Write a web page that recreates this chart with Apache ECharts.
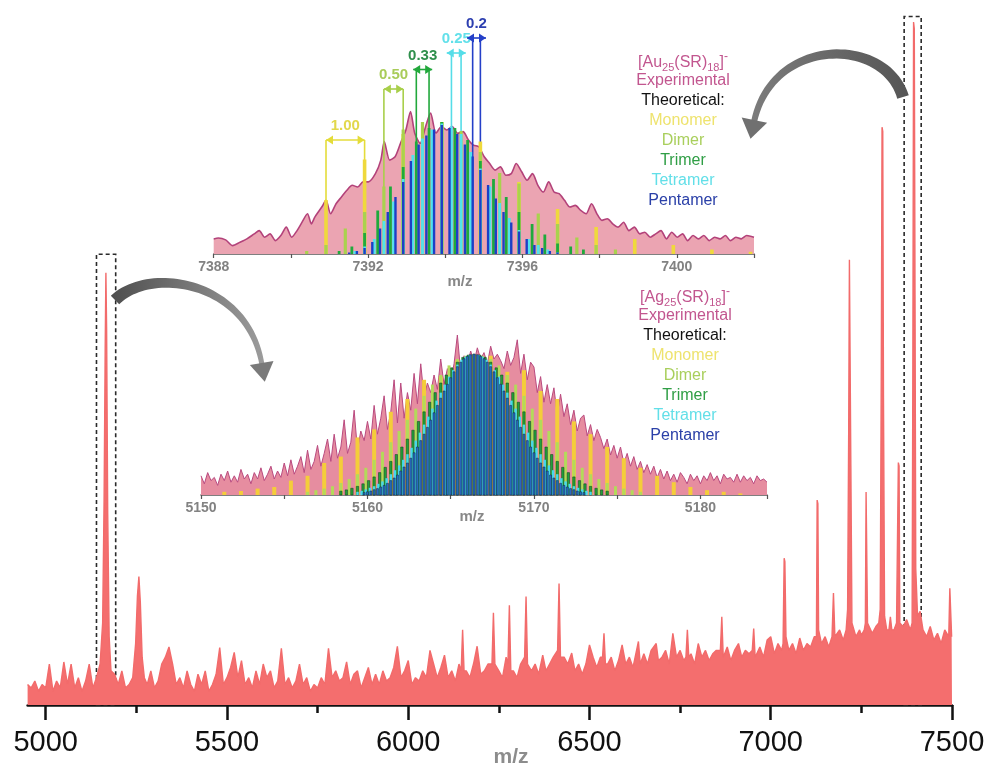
<!DOCTYPE html>
<html>
<head>
<meta charset="utf-8">
<script src="https://cdn.jsdelivr.net/npm/echarts@6/dist/echarts.min.js"></script>
<style>
html,body{margin:0;padding:0;background:#fff}
#chart{width:990px;height:769px}
</style>
</head>
<body>
<div id="chart"></div>
<script>
const FONT = '"Liberation Sans", Arial, Helvetica, sans-serif';

// ---------- Survey spectrum: [m/z, relative intensity %] ----------
const surveySpectrum = [
[4950,3],[4960,2.5],[4970,3.5],[4980,2],[4990,3],
[5000,2.5],[5010,6],[5020,2],[5030,3.5],[5040,2.5],[5050,6.3],[5060,3],[5070,6],[5080,2.5],[5090,4],
[5100,2],[5110,3.5],[5120,6],[5130,2.5],[5140,4],[5150,6],[5157,12],[5161,30],[5164,52],[5166,63.3],[5168,55],[5171,28],[5175,10],[5180,5],[5190,4.5],
[5200,3],[5210,5],[5220,2.5],[5230,3],[5240,4],[5248,9],[5253,16],[5257,18.8],[5261,15],[5266,7],[5272,4],[5280,3],[5290,5],
[5300,2.5],[5310,3.5],[5320,6],[5330,7],[5340,8.5],[5350,6],[5360,3],[5370,4],[5380,2.5],[5390,5],
[5400,3],[5410,2],[5420,4.5],[5430,3],[5440,5],[5450,2],[5460,3],[5470,4.5],[5480,8.4],[5490,3],
[5500,4],[5510,5.5],[5520,7.7],[5530,4],[5540,6.5],[5550,3],[5560,4],[5570,2.5],[5580,5],[5590,3],
[5600,6],[5610,4],[5620,5],[5630,2.5],[5640,3.5],[5650,8.3],[5660,3],[5670,4],[5680,2.5],[5690,3.5],
[5700,6],[5710,3],[5720,4],[5730,2],[5740,3],[5750,2.5],[5760,4],[5770,3],[5780,8.3],[5790,4],
[5800,5],[5810,3.5],[5820,4],[5830,6.3],[5840,3],[5850,4.5],[5860,5],[5870,2.5],[5880,4],[5890,5.5],
[5900,3],[5910,4.5],[5920,3],[5930,5],[5940,3.5],[5950,4],[5960,5.5],[5970,8.6],[5980,4],[5990,5],
[6000,6.5],[6010,3],[6020,4],[6030,3.5],[6040,5],[6050,4],[6060,8],[6070,6],[6080,4],[6090,5.5],
[6100,7.3],[6110,4],[6120,5],[6130,3.5],[6140,6],[6146,5],[6150,11],[6154,5],[6160,5],[6170,4],[6180,6],[6190,8.6],
[6200,4.5],[6210,5],[6220,6],[6231,6],[6235,13.5],[6239,6],[6250,5],[6260,4],[6270,7],[6275,6],[6279,14.6],[6283,5],[6290,5],
[6300,4],[6310,6],[6321,7],[6325,15.9],[6329,6],[6340,5],[6350,6],[6360,4.5],[6371,7.3],[6380,5],[6390,6],
[6400,7],[6412,8],[6416,17.8],[6420,7],[6430,7],[6440,6],[6451,7.6],[6460,5],[6470,6],[6480,4.5],[6490,6],
[6500,8.8],[6510,7],[6520,5.5],[6530,7],[6536,7],[6540,10.5],[6544,6],[6550,6],[6560,7],[6570,5],[6580,6.5],[6590,8.8],
[6600,6],[6610,7],[6620,5.5],[6635,9.3],[6640,6],[6650,7.5],[6660,6],[6670,8],[6684,9],[6690,6.5],
[6700,7],[6710,8],[6720,6],[6730,10.5],[6740,7],[6750,8],[6760,6.5],[6766,7],[6770,11],[6774,7],[6780,7.5],[6790,6],
[6800,9],[6810,7],[6820,8],[6830,6.5],[6840,7.5],[6850,8],[6861,8],[6865,12.9],[6869,7],[6880,8.5],[6890,6.5],
[6900,8],[6911,9],[6920,7],[6930,8],[6940,7.5],[6949,8],[6953,11.2],[6957,7],[6970,8.5],[6980,7],[6990,9.5],
[7000,10],[7010,7.5],[7020,9],[7030,8],[7034,9],[7037,21.5],[7039,21],[7042,10],[7050,8],[7060,9],[7070,7.5],[7080,9.8],[7090,8],
[7100,9],[7110,8.5],[7120,10],[7126,10],[7128,30],[7130,29.5],[7132,11],[7140,9],[7150,10],[7160,8.5],[7169,10],[7173,16.4],[7177,10],[7190,11],
[7200,9.5],[7208,11],[7212,14],[7215,40],[7217,65.2],[7219,65],[7221,35],[7224,12],[7235,10],[7245,11],[7250,10.2],[7258,11],[7261,12],[7263,31.2],[7265,31],[7267,12],[7280,10.5],[7290,11.5],
[7298,12],[7302,14],[7305,50],[7307,84.6],[7309,84],[7311,45],[7314,13],[7320,11],[7326,11],[7330,12.9],[7334,11],[7340,11],[7347,12],[7350,12],[7352,35.5],[7354,35],[7356,12],[7365,11.5],[7375,12.5],[7385,11],
[7390,12],[7392,50],[7394,100],[7396,99],[7398,60],[7400,20],[7405,13],[7412,13.7],[7420,11],[7430,10],[7440,11.5],[7450,9.5],[7460,10.5],[7470,9],[7480,11],[7491,10],[7494,17.1],[7496,17],[7499,10],[7500,10]
];
const surveyTicks = [5000, 5500, 6000, 6500, 7000, 7500];
const surveyMinorTicks = [5250, 5750, 6250, 6750, 7250];
// enlarged windows: [m/z from, m/z to, intensity height]
const zoomWindows = [[5140, 5193, 66], [7368, 7415, 100.8]];

// ---------- [Au25(SR)18]- isotope region ----------
const auExperimental = [
[7388.00,10],[7388.12,10.7],[7388.31,9.4],[7388.49,5.6],[7388.68,7.8],[7388.86,10.1],[7389.05,13.4],[7389.18,15.6],[7389.32,11.2],[7389.46,13.4],
[7389.60,8.9],[7389.74,12.3],[7389.88,17.9],[7390.02,11.2],[7390.16,15.6],[7390.29,21.2],[7390.43,26.8],[7390.53,20.1],[7390.62,24.6],[7390.80,31.3],
[7390.91,35.8],[7391.03,26.8],[7391.17,33.5],[7391.31,38],[7391.45,42.5],[7391.59,45.8],[7391.73,44.7],[7391.87,48.1],[7392.01,48.1],[7392.19,53.6],
[7392.33,62.6],[7392.42,74.9],[7392.56,62.6],[7392.70,64.8],[7392.84,73.8],[7392.98,82.7],[7393.10,95],[7393.21,80.5],[7393.35,73.8],[7393.49,84.9],
[7393.62,93.9],[7393.76,80.5],[7393.90,84.9],[7394.04,82.7],[7394.18,84.9],[7394.32,80.5],[7394.46,81.6],[7394.60,76],[7394.73,72.6],[7394.87,71.5],
[7395.01,64.8],[7395.15,60.3],[7395.29,55.9],[7395.43,58.1],[7395.57,52.5],[7395.71,53.6],[7395.84,60.3],[7395.98,54.8],[7396.12,49.2],[7396.26,53.6],
[7396.40,45.8],[7396.54,41.3],[7396.68,48.1],[7396.82,41.3],[7396.95,40.2],[7397.09,35.8],[7397.23,31.3],[7397.37,32.4],[7397.51,29.1],[7397.65,26.8],
[7397.79,33.5],[7397.93,26.8],[7398.06,22.4],[7398.20,23.5],[7398.34,20.1],[7398.48,17.9],[7398.62,21.2],[7398.76,15.6],[7398.90,17.9],[7399.04,13.4],
[7399.17,14.5],[7399.31,11.2],[7399.45,13.4],[7399.59,15.6],[7399.73,10.1],[7399.87,14.5],[7400.01,11.2],[7400.15,13.4],[7400.28,8.9],[7400.42,12.3],
[7400.56,10.1],[7400.70,12.3],[7400.84,8.9],[7400.98,11.2],[7401.12,10.1],[7401.26,12.3],[7401.39,8.9],[7401.53,11.2],[7401.67,10.1],[7401.81,12.3],[7402.00,11.2]
];
const auMonomer = [[7390.91,36],[7391.91,63],[7392.91,80],[7393.91,88],[7394.91,75],[7395.91,48],[7396.91,30],[7397.91,18],[7398.91,10],[7399.91,6],[7400.91,3],[7401.91,1.5]];
const auDimer = [[7390.41,2],[7390.91,6],[7391.41,17],[7391.91,28],[7392.41,45],[7392.91,83],[7393.41,88],[7393.91,88],[7394.41,82],[7394.91,68],[7395.41,54],[7395.91,47],[7396.41,27],[7396.91,20],[7397.41,11],[7397.91,6],[7398.41,3]];
const auTrimer = [[7391.25,2],[7391.58,5],[7391.91,14],[7392.25,29],[7392.58,45],[7392.91,58],[7393.25,75],[7393.58,84],[7393.91,88],[7394.25,84],[7394.58,76],[7394.91,62],[7395.25,50],[7395.58,38],[7395.91,28],[7396.25,20],[7396.58,13],[7396.91,7],[7397.25,5],[7397.58,3]];
const auTetramer = [[7391.66,2],[7391.91,5],[7392.16,10],[7392.41,22],[7392.66,35],[7392.91,50],[7393.16,66],[7393.41,77],[7393.66,83],[7393.91,87],[7394.16,85],[7394.41,80],[7394.66,68],[7394.91,57],[7395.16,45],[7395.41,34],[7395.66,24],[7395.91,16],[7396.16,10],[7396.41,6],[7396.66,3],[7396.91,1]];
const auPentamer = [[7391.51,1],[7391.71,2],[7391.91,4],[7392.11,8],[7392.31,17],[7392.51,28],[7392.71,38],[7392.91,48],[7393.11,62],[7393.31,73],[7393.51,79],[7393.71,83],[7393.91,86],[7394.11,84],[7394.31,80],[7394.51,73],[7394.71,65],[7394.91,56],[7395.11,46],[7395.31,37],[7395.51,28],[7395.71,21],[7395.91,15],[7396.11,10],[7396.31,6],[7396.51,4],[7396.71,2],[7396.91,1]];
// isotope spacing brackets: first peak, spacing, bracket height
const auBracketStart = [7390.91, 7392.41, 7393.25, 7394.16, 7394.71];
const auBracketSpacing = [1.00, 0.50, 0.33, 0.25, 0.20];
const auBracketTop = [76, 110, 123, 134, 144];
const auBracketLabels = ['1.00', '0.50', '0.33', '0.25', '0.2'];

// ---------- [Ag25(SR)18]- isotope region ----------
const agExperimentalStart = 5150;
const agExperimentalStep = 0.2;
const agExperimental = [
12,7,14,9,11, 6,13,9,15,8, 12,8,16,10,13, 7,14,10,17,9, 13,18,10,15,11,
20,12,22,13,18, 24,14,28,16,21, 31,18,26,35,21, 38,23,30,47,26, 33,53,28,40,34,
46,35,56,38,48, 62,41,52,72,45, 70,48,64,53,76, 57,82,61,70,64, 75,66,85,69,79,
71,82,100,77,87, 81,90,83,92,85, 89,82,93,85,88, 84,79,90,81,86, 97,76,88,72,83,
80,64,74,58,69, 57,67,50,63,49, 57,44,53,40,48, 50,37,44,34,41, 36,29,35,25,31,
23,30,20,26,18, 24,16,21,14,19, 13,18,11,16,10, 15,9,13,8,14, 11,7,13,9,12,
7,12,9,14,9, 12,7,13,10,11, 8,13,8,12,9, 11,7,12,9,10, 8
];
const agMonomer = [[5151.4,2],[5152.4,2.5],[5153.4,4],[5154.4,5],[5155.4,9],[5156.4,12],[5157.4,20],[5158.4,24],[5159.4,36],[5160.4,41],[5161.4,52],[5162.4,60],[5163.4,72],[5164.4,74],[5165.4,84],[5166.4,87],[5167.4,87],[5168.4,77],[5169.4,78],[5170.4,65],[5171.4,60],[5172.4,46],[5173.4,38],[5174.4,30],[5175.4,23],[5176.4,17],[5177.4,12],[5178.4,8],[5179.4,5],[5180.4,3],[5181.4,2],[5182.4,1]];
const agDimerStart = 5156.4;
const agDimer = [2,3,4,5.5,7.5,10,13,17,22,27,33,40,47,54,62,69,75,81,85,87,88,87,85,81,75,69,62,54,47,40,33,27,22,17,13,10,7.5,5.5,4,3,2];
const agTrimerStart = 5158.4;
const agTrimer = [2.4,3.2,4.2,5.4,7,9,11.3,14,17.3,21,25.3,30,35,40.5,46,52,58,64,70,75,79.5,83,86,87.5,88,87.5,86,83,79.5,75,70,64,58,52,46,40.5,35,30,25.3,21,17.3,14,11.3,9,7,5.4,4.2,3.2,2.4];
const agTetramerStart = 5159.4;
const agTetramer = [2,2.6,3.5,4.5,5.5,7,8.5,10.5,13,15.5,18.5,22,25.5,29.5,34,39,44,49,54,59,64,69,74,78,81.5,84.5,86.5,87.5,88,87.5,86.5,84.5,81.5,78,74,69,64,59,54,49,44,39,34,29.5,25.5,22,18.5,15.5,13,10.5,8.5,7,5.5,4.5,3.5,2.6,2];
const agPentamerStart = 5159.8;
const agPentamer = [1.5,2,2.5,3.3,4,5,6,7.3,9,10.6,12.5,15,17.5,20,23,26.4,30,34,38,42.3,46.8,51.4,56,60.5,65,69.2,73.3,77,80.2,83,85.2,86.7,87.7,88,87.7,86.7,85.2,83,80.2,77,73.3,69.2,65,60.5,56,51.4,46.8,42.3,38,34,30,26.4,23,20,17.5,15,12.5,10.6,9,7.3,6,5,4,3.3,2.5,2,1.5];

// ---------- helpers ----------
// pairs a run of peak heights with their m/z, given first position and isotope spacing
function isotopeRun(start, spacing, heights) {
  return heights.map((h, i) => [start + i * spacing, h]);
}

function stickSeries(name, data, xi, yi, width, fill, stroke, z) {
  return {
    type: 'custom', name: name, xAxisIndex: xi, yAxisIndex: yi, z: z,
    data: data, encode: { x: 0, y: 1 }, silent: true,
    renderItem: function (params, api) {
      const top = api.coord([api.value(0), api.value(1)]);
      const base = api.coord([api.value(0), 0]);
      return {
        type: 'rect', z2: z,
        shape: { x: top[0] - width / 2, y: top[1], width: width, height: base[1] - top[1] },
        style: { fill: fill, stroke: stroke || null, lineWidth: stroke ? 0.5 : 0 }
      };
    }
  };
}

// curved tapered arrow drawn as a polygon band along a cubic Bezier
function curvedArrow(p0, c1, c2, p3, w0, w1, headLen, headHalf, bodyFill, headFill) {
  const N = 48, left = [], right = [];
  for (let i = 0; i <= N; i++) {
    const t = i / N, m = 1 - t;
    const x = m*m*m*p0[0] + 3*m*m*t*c1[0] + 3*m*t*t*c2[0] + t*t*t*p3[0];
    const y = m*m*m*p0[1] + 3*m*m*t*c1[1] + 3*m*t*t*c2[1] + t*t*t*p3[1];
    const dx = 3*m*m*(c1[0]-p0[0]) + 6*m*t*(c2[0]-c1[0]) + 3*t*t*(p3[0]-c2[0]);
    const dy = 3*m*m*(c1[1]-p0[1]) + 6*m*t*(c2[1]-c1[1]) + 3*t*t*(p3[1]-c2[1]);
    const len = Math.hypot(dx, dy) || 1;
    const nx = -dy / len, ny = dx / len;
    const w = (w0 + (w1 - w0) * t) / 2;
    left.push([x + nx * w, y + ny * w]);
    right.push([x - nx * w, y - ny * w]);
  }
  const ex = p3[0] - c2[0], ey = p3[1] - c2[1], el = Math.hypot(ex, ey);
  const ux = ex / el, uy = ey / el;
  const bx = p3[0] - ux * 2, by = p3[1] - uy * 2;
  return [
    { type: 'polygon', z: 50, silent: true, shape: { points: left.concat(right.reverse()) }, style: { fill: bodyFill } },
    { type: 'polygon', z: 50, silent: true, shape: { points: [[bx - uy * headHalf, by + ux * headHalf], [p3[0] + ux * headLen, p3[1] + uy * headLen], [bx + uy * headHalf, by - ux * headHalf]] }, style: { fill: headFill } }
  ];
}

function legendBlock(cx, yStart, species) {
  const lines = [
    { text: '{n|[' + species + '}{s|25}{n|(SR)}{s|18}{n|]}{p|-}', color: '#c2568f', rich: true },
    { text: 'Experimental', color: '#c2568f' },
    { text: 'Theoretical:', color: '#111111' },
    { text: 'Monomer', color: '#eee36e' },
    { text: 'Dimer', color: '#a9cf5c' },
    { text: 'Trimer', color: '#2f9e45' },
    { text: 'Tetramer', color: '#62dfe8' },
    { text: 'Pentamer', color: '#2b40a8' }
  ];
  const pitch = [0, 18, 20, 20, 20, 20, 20, 20];
  let y = yStart;
  return lines.map((ln, i) => {
    y += pitch[i];
    const style = {
      text: ln.text, x: cx, y: y, fill: ln.color,
      font: '16px ' + FONT, align: 'center', verticalAlign: 'middle',
      textAlign: 'center', textVerticalAlign: 'middle'
    };
    if (ln.rich) {
      style.rich = {
        n: { fontSize: 16, fontFamily: FONT, fill: ln.color },
        s: { fontSize: 11, fontFamily: FONT, fill: ln.color, padding: [9, 0, 0, 0] },
        p: { fontSize: 12, fontFamily: FONT, fill: ln.color, padding: [0, 0, 12, 0] }
      };
    }
    return { type: 'text', z: 60, silent: true, style: style };
  });
}

function axisText(text, x, y, size, color) {
  return {
    type: 'text', z: 60, silent: true,
    style: { text: text, x: x, y: y, fill: color, font: 'bold ' + size + 'px ' + FONT,
      align: 'center', verticalAlign: 'middle', textAlign: 'center', textVerticalAlign: 'middle' }
  };
}

// ---------- chart ----------
const chart = echarts.init(document.getElementById('chart'), null, { renderer: 'canvas' });

const bracketData = auBracketStart.map((x, i) => [x, x + auBracketSpacing[i], auBracketTop[i]]);
const bracketLine = ['#e4dc3a', '#a8cf4a', '#22a83c', '#55dde8', '#2540c8'];
const bracketText = ['#e2d84c', '#a9cc5a', '#2f8f4c', '#62e0ea', '#2d3fb0'];

const graphics = []
  .concat(curvedArrow([903, 97], [885, 36], [772, 36], [754, 122], 12, 6, 17, 13,
    new echarts.graphic.LinearGradient(1, 0, 0, 0, [{ offset: 0, color: '#555555' }, { offset: 1, color: '#7c7c7c' }]), '#707070'))
  .concat(curvedArrow([115, 300], [150, 266], [248, 280], [262, 365], 12, 5, 17, 12,
    new echarts.graphic.LinearGradient(0, 0, 1, 0, [{ offset: 0, color: '#4e4e4e' }, { offset: 1, color: '#9c9c9c' }]), '#7a7a7a'))
  .concat(legendBlock(683, 63, 'Au'))
  .concat(legendBlock(685, 298, 'Ag'))
  .concat([
    axisText('m/z', 511, 757, 21, '#8c8c8c'),
    axisText('m/z', 460, 282, 15, '#888888'),
    axisText('m/z', 472, 517, 15, '#888888')
  ]);

const option = {
  animation: false,
  backgroundColor: '#ffffff',
  textStyle: { fontFamily: FONT },
  grid: [
    { left: 27.6, right: 38, top: 15.2, bottom: 64, outerBoundsMode: 'none', containLabel: false },
    { left: 213.7, right: 236, top: 14, bottom: 515, outerBoundsMode: 'none', containLabel: false },
    { left: 201, right: 223, top: 335, bottom: 274, outerBoundsMode: 'none', containLabel: false }
  ],
  xAxis: [
    {
      type: 'value', gridIndex: 0, min: 4950, max: 7500, position: 'bottom',
      axisLine: { onZero: false, lineStyle: { color: '#111', width: 2.5 } },
      axisTick: { show: true, length: 15, customValues: surveyTicks, lineStyle: { color: '#111', width: 2.5 } },
      axisLabel: { customValues: surveyTicks, fontSize: 29, color: '#111', margin: 23, fontFamily: FONT,
        formatter: v => String(v) },
      splitLine: { show: false }
    },
    {
      type: 'value', gridIndex: 0, min: 4950, max: 7500, position: 'bottom',
      axisLine: { show: false, onZero: false },
      axisTick: { show: true, length: 8, customValues: surveyMinorTicks, lineStyle: { color: '#111', width: 2.5 } },
      axisLabel: { show: false },
      splitLine: { show: false }
    },
    {
      type: 'value', gridIndex: 1, min: 7388, max: 7402, interval: 2, position: 'bottom',
      axisLine: { onZero: false, lineStyle: { color: '#555', width: 1.5 } },
      axisTick: { length: 4, lineStyle: { color: '#555', width: 1.2 } },
      axisLabel: { fontSize: 14, fontWeight: 'bold', color: '#828282', margin: 6, fontFamily: FONT,
        formatter: v => (v % 4 === 0 ? String(v) : '') },
      splitLine: { show: false }
    },
    {
      type: 'value', gridIndex: 2, min: 5150, max: 5184, interval: 5, position: 'bottom',
      axisLine: { onZero: false, lineStyle: { color: '#555', width: 1.5 } },
      axisTick: { length: 4, lineStyle: { color: '#555', width: 1.2 } },
      axisLabel: { fontSize: 14, fontWeight: 'bold', color: '#828282', margin: 6, fontFamily: FONT,
        formatter: v => (v % 10 === 0 ? String(v) : '') },
      splitLine: { show: false }
    }
  ],
  yAxis: [
    { type: 'value', gridIndex: 0, min: 0, max: 101, show: false },
    { type: 'value', gridIndex: 1, min: 0, max: 160, show: false },
    { type: 'value', gridIndex: 2, min: 0, max: 100, show: false }
  ],
  series: [
    {
      type: 'line', name: 'survey', xAxisIndex: 0, yAxisIndex: 0, data: surveySpectrum, z: 2,
      symbol: 'none', silent: true,
      lineStyle: { color: '#f26b6b', width: 1.4 },
      areaStyle: { color: '#f46e6e', opacity: 1 },
      markArea: {
        silent: true,
        label: { show: false },
        itemStyle: { color: 'rgba(0,0,0,0)', borderColor: '#2a2a2a', borderWidth: 1.6, borderType: [4, 3] },
        data: zoomWindows.map(w => [{ xAxis: w[0], yAxis: 0 }, { xAxis: w[1], yAxis: w[2] }])
      }
    },
    {
      type: 'line', name: 'Au experimental', xAxisIndex: 2, yAxisIndex: 1, data: auExperimental, z: 2,
      symbol: 'none', smooth: 0.25, silent: true,
      lineStyle: { color: '#b3427a', width: 1.6 },
      areaStyle: { color: '#eba4b2', opacity: 1 }
    },
    {
      type: 'custom', name: 'Au spacing', xAxisIndex: 2, yAxisIndex: 1, data: bracketData, silent: true, z: 3,
      encode: { x: [0, 1], y: 2 },
      renderItem: function (params, api) {
        const i = params.dataIndex;
        const a = api.coord([api.value(0), api.value(2)]);
        const b = api.coord([api.value(1), api.value(2)]);
        const base = api.coord([api.value(0), 0]);
        const col = bracketLine[i];
        const mid = (a[0] + b[0]) / 2;
        const half = Math.max((b[0] - a[0]) / 2, 9.5);
        const lx = mid - half, rx = mid + half, y = a[1];
        const hl = 7, hh = 4.5;
        return {
          type: 'group',
          children: [
            { type: 'line', shape: { x1: a[0], y1: y, x2: a[0], y2: base[1] }, style: { stroke: col, lineWidth: 1.6 } },
            { type: 'line', shape: { x1: b[0], y1: y, x2: b[0], y2: base[1] }, style: { stroke: col, lineWidth: 1.6 } },
            { type: 'line', shape: { x1: lx, y1: y, x2: rx, y2: y }, style: { stroke: col, lineWidth: 1.6 } },
            { type: 'polygon', shape: { points: [[lx, y], [lx + hl, y - hh], [lx + hl, y + hh]] }, style: { fill: col } },
            { type: 'polygon', shape: { points: [[rx, y], [rx - hl, y - hh], [rx - hl, y + hh]] }, style: { fill: col } },
            { type: 'text', style: { text: auBracketLabels[i], x: mid, y: y - 14, fill: bracketText[i],
              font: 'bold 15px ' + FONT, align: 'center', verticalAlign: 'middle', textAlign: 'center', textVerticalAlign: 'middle' } }
          ]
        };
      }
    },
    stickSeries('Au monomer', auMonomer, 2, 1, 3.6, '#efd93c', null, 4),
    stickSeries('Au dimer', auDimer, 2, 1, 3.2, '#a9d24e', null, 5),
    stickSeries('Au trimer', auTrimer, 2, 1, 2.8, '#1faa3c', null, 6),
    stickSeries('Au tetramer', auTetramer, 2, 1, 2.8, '#52e2ee', null, 7),
    stickSeries('Au pentamer', auPentamer, 2, 1, 2.4, '#1d3fc6', null, 8),
    {
      type: 'line', name: 'Ag experimental', xAxisIndex: 3, yAxisIndex: 2, z: 2,
      data: agExperimental.map((v, i) => [agExperimentalStart + i * agExperimentalStep, v]),
      symbol: 'none', silent: true,
      lineStyle: { color: '#b94a7f', width: 1 },
      areaStyle: { color: '#e68da0', opacity: 1 }
    },
    stickSeries('Ag monomer', agMonomer, 3, 2, 4, '#f4cd3a', null, 4),
    stickSeries('Ag dimer', isotopeRun(agDimerStart, 0.5, agDimer), 3, 2, 3, '#b3da5a', null, 5),
    stickSeries('Ag trimer', isotopeRun(agTrimerStart, 1 / 3, agTrimer), 3, 2, 2.4, '#23a03c', '#0c3a16', 6),
    stickSeries('Ag tetramer', isotopeRun(agTetramerStart, 0.25, agTetramer), 3, 2, 2.4, '#46d8ec', null, 7),
    stickSeries('Ag pentamer', isotopeRun(agPentamerStart, 0.2, agPentamer), 3, 2, 2, '#2a6ec6', '#0d2142', 8)
  ],
  graphic: { elements: graphics }
};

chart.setOption(option);
</script>
</body>
</html>
